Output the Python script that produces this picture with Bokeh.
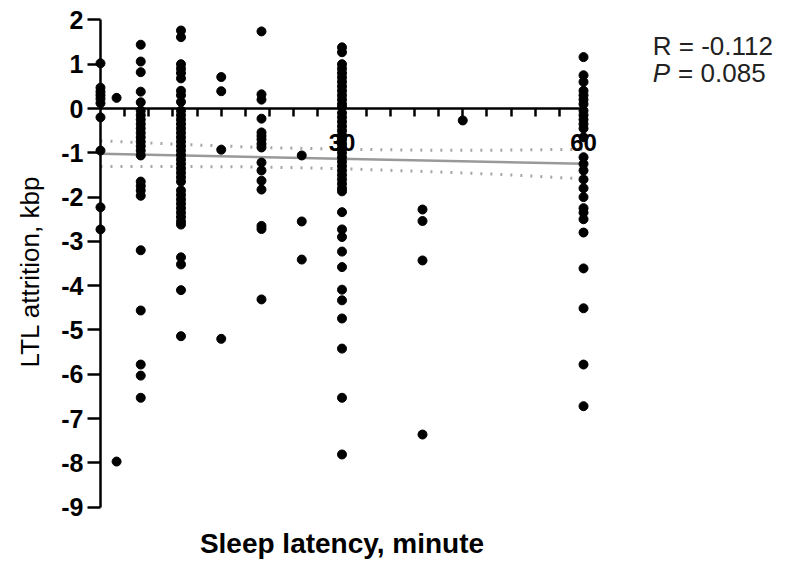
import math
from bokeh.plotting import figure
from bokeh.models import LinearAxis, FixedTicker, Label
from bokeh.embed import file_html
from bokeh.resources import INLINE

# ---- data: LTL attrition (kbp) grouped by sleep latency (minute) ----
ltl_0 = [1.02, 0.47, 0.38, 0.30, 0.22, 0.12, -0.20, -0.95, -2.23, -2.73]
ltl_2 = [0.24, -7.97]
ltl_5 = [1.44, 1.06, 0.82, 0.38, 0.14, -0.05, -0.15, -0.25, -0.35, -0.45,
         -0.55, -0.65, -0.75, -0.85, -0.95, -1.06, -1.65, -1.75, -1.85, -1.97,
         -3.20, -4.56, -5.78, -6.03, -6.53]
ltl_10 = [1.76, 1.61, 1.00, 0.90, 0.80, 0.68, 0.40, 0.30, 0.15, -0.05,
          -0.15, -0.25, -0.35, -0.45, -0.55, -0.65, -0.75, -0.85, -0.95, -1.05,
          -1.15, -1.25, -1.35, -1.45, -1.55, -1.65, -1.85, -1.95, -2.05, -2.15,
          -2.25, -2.35, -2.45, -2.55, -2.62, -3.36, -3.52, -4.10, -5.14]
ltl_15 = [0.71, 0.39, -0.93, -5.20]
ltl_20 = [1.74, 0.32, 0.20, -0.23, -0.54, -0.62, -0.70, -0.80, -0.88, -1.22,
          -1.40, -1.63, -1.83, -2.65, -2.72, -4.31]
ltl_25 = [-1.06, -2.55, -3.41]
ltl_30 = [1.38, 1.27, 1.00, 0.90, 0.80, 0.70, 0.60, 0.50, 0.40, 0.30,
          0.20, 0.10, 0.03, -0.10, -0.20, -0.30, -0.40, -0.50, -0.60, -0.70,
          -0.80, -0.90, -1.00, -1.10, -1.20, -1.30, -1.40, -1.50, -1.60, -1.70,
          -1.80, -1.87, -2.34, -2.73, -2.90, -3.23, -3.58, -4.09, -4.33, -4.74,
          -5.42, -6.53, -7.81]
ltl_40 = [-2.28, -2.54, -3.43, -7.36]
ltl_45 = [-0.27]
ltl_60 = [1.16, 0.75, 0.60, 0.40, 0.30, 0.20, 0.10, -0.05, -0.15, -0.25,
          -0.35, -0.45, -0.65, -1.10, -1.25, -1.40, -1.60, -1.80, -2.00, -2.25,
          -2.35, -2.50, -2.80, -3.61, -4.51, -5.78, -6.72]

groups = {0: ltl_0, 2: ltl_2, 5: ltl_5, 10: ltl_10, 15: ltl_15, 20: ltl_20,
          25: ltl_25, 30: ltl_30, 40: ltl_40, 45: ltl_45, 60: ltl_60}

# regression line and 95% confidence band
fit_x = [0, 60]
fit_y = [-1.02, -1.25]
band_x = [0, 10, 20, 30, 40, 50, 60]
band_upper = [-0.73, -0.81, -0.88, -0.92, -0.94, -0.94, -0.92]
band_lower = [-1.31, -1.31, -1.32, -1.36, -1.42, -1.49, -1.59]

y_ticks = [2, 1, 0, -1, -2, -3, -4, -5, -6, -7, -8, -9]
x_major = [30, 60]
x_minor = [3, 6, 9, 12, 15, 18, 21, 24, 27, 33, 36, 39, 42, 45, 48, 51, 54, 57]

stat_r = "R = -0.112"
stat_p = "= 0.085"

xs, ys = [], []
for k, vals in groups.items():
    xs += [k] * len(vals)
    ys += vals

FONT = "Liberation Sans"

# frame covers the whole canvas so that nothing is clipped
p = figure(width=790, height=561, output_backend="svg", toolbar_location=None,
           x_range=(-12.42, 85.71), y_range=(-10.226, 2.438),
           x_axis_location=None, y_axis_location=None,
           min_border_left=0, min_border_right=0,
           min_border_top=0, min_border_bottom=0)
p.outline_line_color = None
p.xgrid.visible = False
p.ygrid.visible = False
p.background_fill_color = "white"

# axes crossing at origin
xa = LinearAxis(fixed_location=0, bounds=(0, 60),
                ticker=FixedTicker(ticks=x_major, minor_ticks=x_minor))
xa.axis_line_width = 2.5
xa.axis_line_color = "black"
xa.major_tick_in = 0
xa.major_tick_out = 8
xa.minor_tick_in = 0
xa.minor_tick_out = 8
xa.major_tick_line_width = 2.5
xa.minor_tick_line_width = 2.5
xa.major_label_text_font = FONT
xa.major_label_text_font_style = "bold"
xa.major_label_text_font_size = "24px"
xa.major_label_text_color = "black"
xa.major_label_standoff = 17
p.add_layout(xa, "below")

ya = LinearAxis(fixed_location=0, bounds=(-9, 2),
                ticker=FixedTicker(ticks=y_ticks, minor_ticks=[]))
ya.axis_line_width = 2.5
ya.axis_line_color = "black"
ya.major_tick_in = 0
ya.major_tick_out = 13
ya.major_tick_line_width = 2.5
ya.major_label_text_font = FONT
ya.major_label_text_font_style = "bold"
ya.major_label_text_font_size = "25px"
ya.major_label_text_color = "black"
ya.major_label_standoff = 4
ya.major_label_overrides = {t: str(t) for t in y_ticks}
p.add_layout(ya, "left")

# confidence band and fit line
p.line(band_x, band_upper, line_color="#a6a6a6", line_width=3, line_dash="2 8")
p.line(band_x, band_lower, line_color="#a6a6a6", line_width=3, line_dash="2 8")
p.line(fit_x, fit_y, line_color="#999999", line_width=2.5)

# points
p.scatter(xs, ys, size=9, color="black")

# texts
p.add_layout(Label(x=30, y=-9.82, text="Sleep latency, minute", text_font=FONT,
                   text_font_style="bold", text_font_size="28px",
                   text_align="center", text_baseline="middle", text_color="black"))
p.add_layout(Label(x=-8.7, y=-3.68, text="LTL attrition, kbp", text_font=FONT,
                   text_font_size="26px", angle=math.pi / 2,
                   text_align="center", text_baseline="middle", text_color="black"))
p.add_layout(Label(x=68.6, y=1.42, text=stat_r, text_font=FONT,
                   text_font_size="26px", text_align="left",
                   text_baseline="middle", text_color="#222222"))
p.add_layout(Label(x=68.6, y=0.80, text="P", text_font=FONT,
                   text_font_style="italic", text_font_size="26px",
                   text_align="left", text_baseline="middle", text_color="#222222"))
p.add_layout(Label(x=71.75, y=0.80, text=stat_p, text_font=FONT,
                   text_font_size="26px", text_align="left",
                   text_baseline="middle", text_color="#222222"))

open("out.html", "w").write(file_html(p, INLINE))
